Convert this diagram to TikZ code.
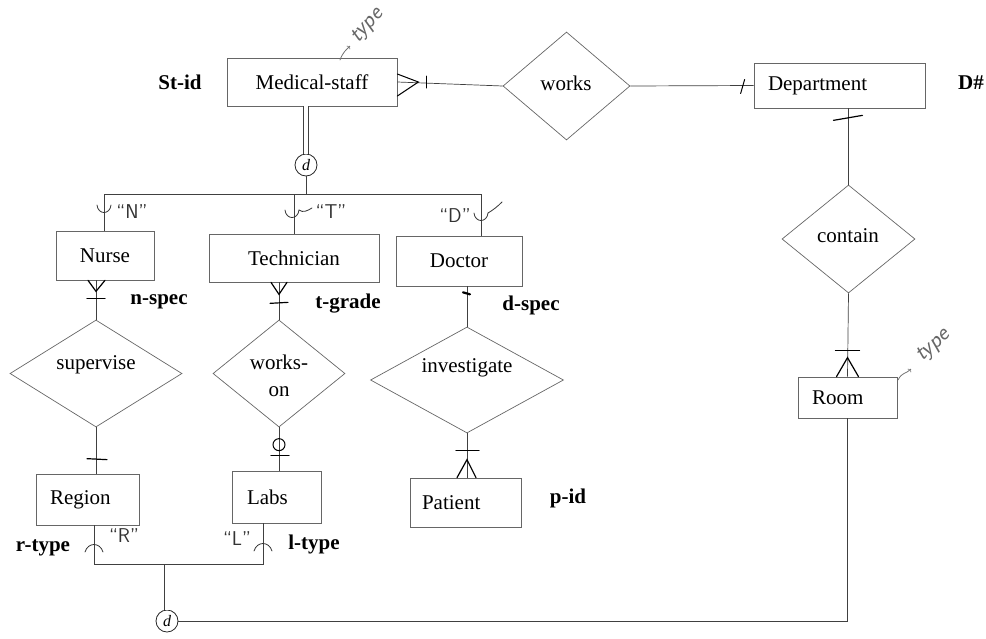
\documentclass[tikz,border=0pt]{standalone}
\usepackage{fontspec}
\setmainfont{Liberation Serif}
\usetikzlibrary{shapes.geometric,calc}
\begin{document}
\begin{tikzpicture}[x=1pt,y=-1pt,
  ent/.style={draw=black!60, line width=0.7pt, rectangle, inner sep=0pt, font=\fontsize{21}{23}\selectfont},
  entl/.style={ent, align=left},
  rel/.style={draw=black!60, line width=0.7pt, diamond, inner sep=0pt},
  reltext/.style={font=\fontsize{21}{27}\selectfont, align=center, inner sep=0pt},
  attr/.style={font=\bfseries\fontsize{21}{23}\selectfont, inner sep=0pt},
  conn/.style={draw=black!75, line width=0.7pt},
  pen/.style={draw=black, line width=1.2pt, line cap=round},
  penthin/.style={draw=black!80, line width=0.8pt, line cap=round},
  hand/.style={font=\sffamily\fontsize{20}{20}\selectfont, text=black!80, inner sep=0pt},
  handsm/.style={font=\sffamily\itshape\fontsize{23}{23}\selectfont, text=black!60, inner sep=0pt},
  dcirc/.style={circle, draw=black!85, line width=0.8pt, minimum size=22pt, inner sep=0pt, font=\itshape\fontsize{16}{16}\selectfont},
  ecup/.pic={\draw[penthin] (-7,-6) .. controls (-6,4) and (6,4) .. (7,-6);},
  ecap/.pic={\draw[penthin] (-9,5) .. controls (-6,-5) and (6,-5) .. (9,5);}
]
\useasboundingbox (0,0) rectangle (986,638);

% entities
\node[ent, minimum width=170, minimum height=48] (ms) at (312,82) {Medical-staff};
\node[entl, minimum height=45, text width=143, inner xsep=14] (dept) at (839.5,85.5) {Department};
\node[ent, minimum width=98, minimum height=49] (nurse) at (105,255.5) {Nurse};
\node[ent, minimum width=170, minimum height=48] (tech) at (294,258) {Technician};
\node[ent, minimum width=126, minimum height=50] (doctor) at (459,261) {Doctor};
\node[entl, minimum height=51, text width=75, inner xsep=14] (region) at (87.5,499.5) {Region};
\node[entl, minimum height=52, text width=59, inner xsep=15] (labs) at (276.5,497) {Labs};
\node[entl, minimum height=49, text width=87, inner xsep=12] (patient) at (465.5,502.5) {Patient};
\node[entl, minimum height=41, text width=71, inner xsep=14] (room) at (847.5,397.5) {Room};

% relationships
\node[rel, minimum width=127, minimum height=108] (works) at (566.5,86) {};
\node[rel, minimum width=133, minimum height=108] (contain) at (848.5,239) {};
\node[rel, minimum width=172, minimum height=107] (sup) at (96,373.5) {};
\node[rel, minimum width=132, minimum height=107] (wo) at (279,373.5) {};
\node[rel, minimum width=193, minimum height=106] (inv) at (467,380) {};
\node[reltext] (works-t) at (566,83) {works};
\node[reltext] (contain-t) at (848,236) {contain};
\node[reltext] (sup-t) at (96,365) {supervise};
\node[reltext] (wo-t) at (279,376) {works-\\on};
\node[reltext] (inv-t) at (467,368) {investigate};

% attribute labels
\node[attr] (stid) at (180,82) {St-id};
\node[attr] (dnum) at (971,83) {D\#};
\node[attr] (nspec) at (159,302) {n-spec};
\node[attr] (tgrade) at (348,304) {t-grade};
\node[attr] (dspec) at (531,305) {d-spec};
\node[attr] (pid) at (568,498) {p-id};
\node[attr] (rtype) at (43,548) {r-type};
\node[attr] (ltype) at (314,544) {l-type};

% disjoint circles
\node[dcirc] (d1) at (306,165) {d};
\node[dcirc] (d2) at (167,621) {d};

% Medical-staff -- works -- Department
\draw[conn] (ms.east) -- (works.west);
\draw[pen, line width=1pt] ($(ms.east)+(0,-8)$) -- ($(ms.east)+(21,0)$) -- ($(ms.east)+(0,14)$);
\draw[pen, line width=1pt] ($(ms.east)+(29,-6)$) -- ($(ms.east)+(29,6)$);
\draw[conn] (works.east) -- (dept.west);
\draw[pen, line width=1pt] ($(dept.west)+(-13,8)$) -- ($(dept.west)+(-9,-6)$);

% Department -- contain -- Room
\coordinate (dbot) at (contain.north |- dept.south);
\draw[conn] (dbot) -- (contain.north);
\draw[pen] ($(dbot)+(-15,12)$) -- ($(dbot)+(14,7)$);
\draw[conn] (contain.south) -- (room.north);
\draw[pen] ($(room.north)+(-11,0)$) -- ($(room.north)+(0,-19)$) -- ($(room.north)+(11,0)$);
\draw[pen] ($(room.north)+(-12,-26)$) -- ($(room.north)+(12,-26)$);
\draw[conn] (room.south) |- (d2.east);

% specialization of Medical-staff
\coordinate (barl) at (104,194);
\coordinate (barr) at (481,194);
\draw[conn, double, double distance=4pt] (d1.north) -- (d1.north |- ms.south);
\draw[conn] (d1.south) -- (d1.south |- barl);
\draw[conn] (barl) -- (barr);
\draw[conn] (barl) -- (barl |- nurse.north);
\draw[conn] (tech.north |- barl) -- (tech.north);
\draw[conn] (barr) -- (barr |- doctor.north);
\pic at (104,211) {ecup};
\pic at (292,216) {ecup};
\draw[penthin] (299,210) .. controls (303,213) and (307,211) .. (312,208);
\pic at (481,219) {ecup};
\draw[penthin] (488,213) .. controls (493,210) and (497,207) .. (502,202);
\node[hand] (qn) at (132,212) {“N”};
\node[hand] (qt) at (331,212) {“T”};
\node[hand] (qd) at (455,216) {“D”};

% Nurse -- supervise -- Region
\coordinate (nb) at (sup.north |- nurse.south);
\draw[conn] (nb) -- (sup.north);
\draw[pen] ($(nb)+(-8,0)$) -- ($(nb)+(0,11)$) -- ($(nb)+(9,0)$);
\draw[pen] ($(nb)+(-9,18)$) -- ($(nb)+(9,18)$);
\coordinate (rt) at (sup.south |- region.north);
\draw[conn] (sup.south) -- (rt);
\draw[pen] ($(rt)+(-9,-15)$) -- ($(rt)+(11,-14)$);

% Technician -- works-on -- Labs
\coordinate (tb) at (wo.north |- tech.south);
\draw[conn] (tb) -- (wo.north);
\draw[pen] ($(tb)+(-8,0)$) -- ($(tb)+(0,12)$) -- ($(tb)+(8,0)$);
\draw[pen] ($(tb)+(-9,21)$) -- ($(tb)+(9,20)$);
\coordinate (lt) at (wo.south |- labs.north);
\draw[conn] (wo.south) -- (lt);
\draw[pen, line width=1pt] ($(lt)+(0,-26)$) circle [radius=6pt];
\draw[pen] ($(lt)+(-8,-15)$) -- ($(lt)+(10,-15)$);

% Doctor -- investigate -- Patient
\coordinate (db) at (inv.north |- doctor.south);
\draw[conn] (db) -- (inv.north);
\draw[pen, line width=2.2pt] ($(db)+(-4,6)$) -- ($(db)+(3,8)$);
\coordinate (pt) at (inv.south |- patient.north);
\draw[conn] (inv.south) -- (pt);
\draw[pen] ($(pt)+(-10,0)$) -- ($(pt)+(0,-18)$) -- ($(pt)+(9,0)$);
\draw[pen] ($(pt)+(-11,-27)$) -- ($(pt)+(12,-27)$);

% union category: Region, Labs -> d2
\coordinate (b2l) at (94,564);
\coordinate (b2r) at (263,564);
\draw[conn, double, double distance=5pt] (d2.north) -- (d2.north |- b2l);
\draw[conn] (b2l |- region.south) -- (b2l) -- (b2r) -- (b2r |- labs.south);
\pic at (94,547) {ecap};
\pic at (263,546) {ecap};
\node[hand] (qr) at (124,536) {“R”};
\node[hand] (ql) at (237,539) {“L”};

% handwritten type annotations
\coordinate (msa) at (340,60);
\draw[penthin, draw=black!55, ->] (msa) .. controls (343,52) and (346,50) .. (350,46);
\node[handsm, rotate=48] (mstype) at (368,26) {type};
\coordinate (rma) at (898,380);
\draw[penthin, draw=black!55, ->] (rma) .. controls (902,372) and (906,374) .. (911,369);
\node[handsm, rotate=42] (rmtype) at (934,346) {type};
\end{tikzpicture}
\end{document}
